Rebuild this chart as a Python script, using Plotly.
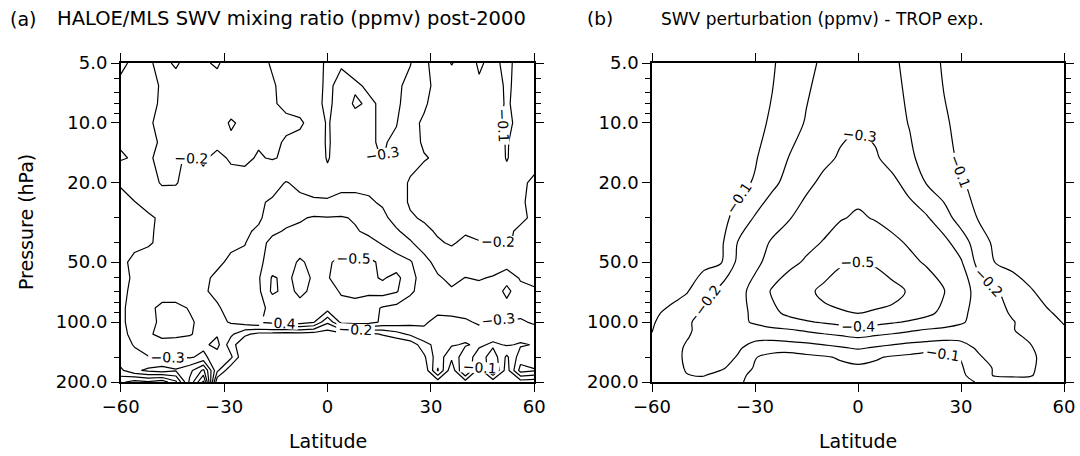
import math
import plotly.graph_objects as go

FONT = "DejaVu Sans"

# ---------------- Panel (a): HALOE/MLS SWV change post-2000 (ppmv) ----------------
lat_a = [-60, -56, -52, -48, -44, -40, -36, -32, -28, -24, -20, -16, -12, -8, -4, 0,
         4, 8, 12, 16, 20, 24, 28, 32, 36, 40, 44, 48, 52, 56, 60]
p_a = [5, 6.5, 8, 10, 12.5, 15, 20, 25, 30, 35, 40, 50, 60, 70, 85, 100, 115, 130, 150, 175, 200]
swv_a = [
    [-0.19, -0.21, -0.21, -0.18, -0.21, -0.17, -0.19, -0.21, -0.16, -0.18, -0.17, -0.21, -0.24, -0.26, -0.25, -0.32, -0.31, -0.33, -0.33, -0.32, -0.32, -0.305, -0.22, -0.16, -0.095, -0.14, -0.09, -0.12, -0.08, -0.13, -0.15],
    [-0.21, -0.22, -0.23, -0.19, -0.17, -0.16, -0.18, -0.17, -0.16, -0.18, -0.17, -0.19, -0.23, -0.25, -0.26, -0.32, -0.27, -0.29, -0.31, -0.33, -0.32, -0.27, -0.22, -0.18, -0.15, -0.12, -0.11, -0.13, -0.09, -0.12, -0.14],
    [-0.22, -0.23, -0.22, -0.19, -0.16, -0.17, -0.15, -0.17, -0.16, -0.17, -0.18, -0.19, -0.22, -0.24, -0.27, -0.32, -0.26, -0.31, -0.29, -0.31, -0.32, -0.25, -0.21, -0.17, -0.15, -0.16, -0.13, -0.14, -0.09, -0.13, -0.15],
    [-0.22, -0.22, -0.21, -0.18, -0.17, -0.16, -0.18, -0.16, -0.21, -0.18, -0.19, -0.18, -0.18, -0.185, -0.24, -0.31, -0.25, -0.27, -0.28, -0.32, -0.305, -0.22, -0.19, -0.17, -0.15, -0.14, -0.15, -0.13, -0.085, -0.12, -0.16],
    [-0.21, -0.23, -0.22, -0.19, -0.185, -0.17, -0.19, -0.18, -0.185, -0.19, -0.195, -0.18, -0.21, -0.23, -0.25, -0.31, -0.26, -0.27, -0.29, -0.31, -0.28, -0.23, -0.19, -0.17, -0.15, -0.16, -0.14, -0.17, -0.09, -0.16, -0.17],
    [-0.19, -0.21, -0.21, -0.18, -0.19, -0.21, -0.19, -0.22, -0.19, -0.19, -0.205, -0.195, -0.21, -0.24, -0.26, -0.305, -0.27, -0.28, -0.29, -0.302, -0.27, -0.23, -0.205, -0.19, -0.17, -0.16, -0.17, -0.15, -0.095, -0.14, -0.18],
    [-0.29, -0.26, -0.24, -0.19, -0.195, -0.23, -0.22, -0.24, -0.23, -0.22, -0.25, -0.27, -0.305, -0.28, -0.27, -0.28, -0.29, -0.28, -0.28, -0.27, -0.24, -0.19, -0.17, -0.16, -0.15, -0.16, -0.15, -0.16, -0.13, -0.19, -0.21],
    [-0.33, -0.302, -0.28, -0.26, -0.24, -0.26, -0.25, -0.27, -0.26, -0.27, -0.29, -0.31, -0.32, -0.32, -0.31, -0.305, -0.31, -0.32, -0.31, -0.29, -0.24, -0.19, -0.17, -0.16, -0.15, -0.16, -0.15, -0.14, -0.16, -0.19, -0.22],
    [-0.34, -0.32, -0.31, -0.29, -0.27, -0.28, -0.27, -0.28, -0.27, -0.28, -0.29, -0.33, -0.37, -0.39, -0.41, -0.405, -0.41, -0.39, -0.37, -0.32, -0.27, -0.21, -0.19, -0.18, -0.17, -0.16, -0.17, -0.15, -0.16, -0.19, -0.21],
    [-0.33, -0.32, -0.31, -0.285, -0.26, -0.27, -0.26, -0.27, -0.28, -0.29, -0.31, -0.38, -0.41, -0.42, -0.43, -0.42, -0.43, -0.41, -0.38, -0.34, -0.31, -0.27, -0.22, -0.19, -0.18, -0.19, -0.18, -0.17, -0.19, -0.21, -0.22],
    [-0.32, -0.31, -0.305, -0.29, -0.27, -0.28, -0.27, -0.28, -0.29, -0.295, -0.36, -0.43, -0.44, -0.46, -0.47, -0.45, -0.46, -0.45, -0.43, -0.39, -0.35, -0.31, -0.26, -0.21, -0.19, -0.22, -0.205, -0.21, -0.19, -0.22, -0.23],
    [-0.31, -0.29, -0.28, -0.27, -0.26, -0.27, -0.28, -0.29, -0.31, -0.33, -0.38, -0.44, -0.47, -0.51, -0.48, -0.49, -0.52, -0.51, -0.52, -0.48, -0.44, -0.41, -0.33, -0.27, -0.25, -0.24, -0.26, -0.23, -0.25, -0.27, -0.26],
    [-0.32, -0.29, -0.28, -0.27, -0.28, -0.27, -0.29, -0.31, -0.35, -0.37, -0.39, -0.51, -0.48, -0.53, -0.49, -0.495, -0.53, -0.55, -0.52, -0.49, -0.53, -0.43, -0.36, -0.31, -0.28, -0.302, -0.29, -0.31, -0.36, -0.29, -0.28],
    [-0.31, -0.29, -0.27, -0.28, -0.26, -0.28, -0.29, -0.32, -0.34, -0.36, -0.38, -0.52, -0.47, -0.52, -0.48, -0.46, -0.51, -0.53, -0.52, -0.54, -0.51, -0.42, -0.35, -0.33, -0.31, -0.32, -0.34, -0.33, -0.43, -0.33, -0.31],
    [-0.31, -0.28, -0.29, -0.31, -0.32, -0.295, -0.28, -0.29, -0.33, -0.36, -0.38, -0.42, -0.45, -0.47, -0.46, -0.45, -0.47, -0.46, -0.44, -0.39, -0.37, -0.34, -0.33, -0.32, -0.34, -0.33, -0.35, -0.34, -0.36, -0.33, -0.32],
    [-0.305, -0.29, -0.27, -0.32, -0.34, -0.31, -0.28, -0.27, -0.31, -0.35, -0.39, -0.43, -0.44, -0.45, -0.41, -0.22, -0.43, -0.45, -0.44, -0.38, -0.36, -0.33, -0.31, -0.28, -0.27, -0.29, -0.31, -0.28, -0.295, -0.29, -0.31],
    [-0.31, -0.29, -0.29, -0.32, -0.31, -0.305, -0.28, -0.29, -0.22, -0.12, -0.07, -0.06, -0.05, -0.06, -0.05, -0.04, -0.06, -0.05, -0.07, -0.11, -0.16, -0.22, -0.28, -0.29, -0.26, -0.24, -0.27, -0.25, -0.26, -0.24, -0.26],
    [-0.33, -0.295, -0.28, -0.27, -0.28, -0.27, -0.28, -0.33, -0.14, -0.02, 0.0, 0.0, 0.0, 0.0, 0.0, 0.0, 0.0, 0.0, 0.0, 0.0, 0.0, -0.03, -0.16, -0.24, -0.21, -0.19, -0.22, -0.18, -0.21, -0.19, -0.205],
    [-0.36, -0.32, -0.302, -0.29, -0.305, -0.29, -0.32, -0.25, -0.22, 0.0, 0.0, 0.0, 0.0, 0.0, 0.0, 0.0, 0.0, 0.0, 0.0, 0.0, 0.0, -0.01, -0.08, -0.26, -0.12, -0.27, -0.14, -0.26, -0.08, -0.25, -0.24],
    [-0.28, -0.38, -0.42, -0.45, -0.41, -0.47, -0.62, -0.22, -0.02, 0.0, 0.0, 0.0, 0.0, 0.0, 0.0, 0.0, 0.0, 0.0, 0.0, 0.0, 0.0, 0.0, -0.02, -0.31, -0.03, -0.33, -0.04, -0.32, -0.05, -0.34, -0.31],
    [-0.12, -0.06, -0.09, -0.04, -0.18, -0.52, -0.82, -0.02, 0.0, 0.0, 0.0, 0.0, 0.0, 0.0, 0.0, 0.0, 0.0, 0.0, 0.0, 0.0, 0.0, 0.0, 0.0, -0.05, 0.0, -0.06, 0.0, -0.04, 0.0, -0.05, -0.04],
]

# ---------------- Panel (b): model SWV perturbation, TROP experiment (ppmv) ----------------
lat_b = [-60, -55, -50, -45, -40, -35, -30, -25, -20, -15, -10, -5, 0,
         5, 10, 15, 20, 25, 30, 35, 40, 45, 50, 55, 60]
p_b = [5, 10, 15, 20, 30, 40, 50, 70, 90, 100, 110, 120, 135, 150, 170, 185, 200]
swv_b = [
    [-0.01, -0.01, -0.02, -0.03, -0.04, -0.06, -0.08, -0.095, -0.12, -0.17, -0.22, -0.25, -0.26, -0.25, -0.22, -0.17, -0.12, -0.095, -0.08, -0.06, -0.04, -0.03, -0.02, -0.01, -0.01],
    [-0.01, -0.02, -0.03, -0.04, -0.05, -0.07, -0.09, -0.105, -0.15, -0.21, -0.25, -0.28, -0.29, -0.28, -0.24, -0.195, -0.14, -0.105, -0.09, -0.07, -0.05, -0.04, -0.03, -0.02, -0.01],
    [-0.01, -0.02, -0.03, -0.05, -0.06, -0.08, -0.095, -0.13, -0.205, -0.24, -0.28, -0.31, -0.33, -0.31, -0.27, -0.22, -0.16, -0.12, -0.09, -0.07, -0.06, -0.05, -0.03, -0.02, -0.01],
    [-0.02, -0.03, -0.04, -0.05, -0.07, -0.085, -0.105, -0.18, -0.23, -0.28, -0.32, -0.35, -0.37, -0.35, -0.32, -0.27, -0.195, -0.15, -0.105, -0.085, -0.07, -0.05, -0.04, -0.03, -0.02],
    [-0.02, -0.03, -0.04, -0.06, -0.08, -0.12, -0.21, -0.26, -0.295, -0.34, -0.37, -0.395, -0.41, -0.395, -0.37, -0.34, -0.31, -0.24, -0.16, -0.095, -0.07, -0.05, -0.04, -0.03, -0.02],
    [-0.02, -0.03, -0.04, -0.05, -0.08, -0.205, -0.26, -0.31, -0.35, -0.38, -0.405, -0.44, -0.46, -0.44, -0.42, -0.39, -0.36, -0.33, -0.25, -0.15, -0.08, -0.05, -0.04, -0.03, -0.02],
    [-0.02, -0.03, -0.05, -0.07, -0.09, -0.22, -0.28, -0.33, -0.38, -0.41, -0.45, -0.49, -0.505, -0.49, -0.45, -0.42, -0.39, -0.35, -0.31, -0.17, -0.097, -0.07, -0.05, -0.03, -0.02],
    [-0.04, -0.06, -0.09, -0.17, -0.23, -0.27, -0.33, -0.41, -0.45, -0.48, -0.52, -0.55, -0.56, -0.55, -0.53, -0.49, -0.45, -0.405, -0.34, -0.27, -0.21, -0.16, -0.11, -0.07, -0.05],
    [-0.08, -0.12, -0.17, -0.21, -0.24, -0.27, -0.32, -0.38, -0.42, -0.45, -0.48, -0.49, -0.503, -0.49, -0.48, -0.45, -0.42, -0.38, -0.32, -0.27, -0.23, -0.19, -0.15, -0.11, -0.08],
    [-0.09, -0.14, -0.19, -0.22, -0.25, -0.28, -0.31, -0.34, -0.37, -0.39, -0.41, -0.43, -0.445, -0.43, -0.41, -0.39, -0.37, -0.34, -0.31, -0.27, -0.23, -0.205, -0.17, -0.13, -0.095],
    [-0.098, -0.15, -0.19, -0.22, -0.24, -0.26, -0.27, -0.28, -0.29, -0.31, -0.33, -0.35, -0.37, -0.35, -0.33, -0.31, -0.29, -0.28, -0.27, -0.25, -0.22, -0.205, -0.17, -0.14, -0.11],
    [-0.105, -0.15, -0.195, -0.23, -0.235, -0.225, -0.215, -0.22, -0.24, -0.25, -0.265, -0.28, -0.298, -0.28, -0.265, -0.25, -0.24, -0.22, -0.215, -0.225, -0.235, -0.22, -0.19, -0.14, -0.11],
    [-0.12, -0.16, -0.21, -0.23, -0.23, -0.21, -0.17, -0.14, -0.13, -0.15, -0.17, -0.19, -0.21, -0.19, -0.17, -0.15, -0.13, -0.14, -0.17, -0.21, -0.23, -0.23, -0.21, -0.16, -0.12],
    [-0.13, -0.17, -0.21, -0.235, -0.23, -0.195, -0.105, -0.07, -0.07, -0.08, -0.09, -0.11, -0.13, -0.11, -0.09, -0.08, -0.07, -0.07, -0.105, -0.19, -0.23, -0.235, -0.22, -0.17, -0.13],
    [-0.14, -0.17, -0.205, -0.23, -0.215, -0.16, -0.09, -0.06, -0.06, -0.06, -0.07, -0.08, -0.085, -0.08, -0.07, -0.06, -0.06, -0.06, -0.09, -0.16, -0.21, -0.23, -0.21, -0.18, -0.15],
    [-0.14, -0.17, -0.198, -0.205, -0.17, -0.12, -0.08, -0.05, -0.05, -0.05, -0.05, -0.06, -0.06, -0.06, -0.05, -0.05, -0.05, -0.05, -0.08, -0.15, -0.21, -0.21, -0.205, -0.18, -0.15],
    [-0.14, -0.16, -0.18, -0.17, -0.14, -0.11, -0.08, -0.05, -0.05, -0.05, -0.05, -0.05, -0.05, -0.05, -0.05, -0.05, -0.05, -0.05, -0.08, -0.105, -0.14, -0.17, -0.18, -0.16, -0.14],
]

# ---------------- Axis ticks / labels ----------------
x_ticks = [-60, -30, 0, 30, 60]
y_ticks = [5, 10, 20, 50, 100, 200]
y_ticktext = ["5.0", "10.0", "20.0", "50.0", "100.0", "200.0"]
y_minor = [6, 7, 8, 9, 30, 40, 60, 70, 80, 90, 150]

title_a = "HALOE/MLS SWV mixing ratio (ppmv) post-2000"
title_b = "SWV perturbation (ppmv) - TROP exp."

W, H = 1080, 456
black = [[0, "black"], [1, "black"]]

fig = go.Figure()
fig.add_trace(go.Contour(
    x=lat_a, y=p_a, z=swv_a, xaxis="x", yaxis="y",
    contours=dict(start=-0.9, end=-0.1, size=0.1, coloring="lines", showlabels=True,
                  labelfont=dict(family=FONT, size=14, color="black"), labelformat=".1f"),
    colorscale=black, showscale=False, line=dict(width=1.2, smoothing=0),
    hoverinfo="skip"))
fig.add_trace(go.Contour(
    x=lat_b, y=p_b, z=swv_b, xaxis="x2", yaxis="y2",
    contours=dict(start=-0.5, end=-0.1, size=0.1, coloring="lines", showlabels=True,
                  labelfont=dict(family=FONT, size=14, color="black"), labelformat=".1f"),
    colorscale=black, showscale=False, line=dict(width=1.2, smoothing=1),
    hoverinfo="skip"))

y0 = (H - 382) / H
y1 = (H - 63) / H


def xax(domain, anchor):
    return dict(domain=domain, anchor=anchor, range=[-60, 60], tickmode="array", tickvals=x_ticks,
                ticks="outside", ticklen=8, tickwidth=1.2, tickcolor="black", automargin=False,
                showline=True, linecolor="black", linewidth=1.5, mirror="ticks",
                showgrid=False, zeroline=False, tickfont=dict(family=FONT, size=18, color="black"))


def yax(anchor):
    return dict(domain=[y0, y1], anchor=anchor, type="log", automargin=False,
                range=[math.log10(200), math.log10(5)],
                tickmode="array", tickvals=y_ticks, ticktext=y_ticktext,
                ticks="outside", ticklen=8, tickwidth=1.2, tickcolor="black",
                minor=dict(tickmode="array", tickvals=y_minor, ticks="outside", ticklen=5,
                           tickwidth=1.2, tickcolor="black", showgrid=False),
                showline=True, linecolor="black", linewidth=1.5, mirror="ticks",
                showgrid=False, zeroline=False, tickfont=dict(family=FONT, size=18, color="black"))


fig.update_layout(
    width=W, height=H, margin=dict(l=0, r=0, t=0, b=0, autoexpand=False),
    paper_bgcolor="white", plot_bgcolor="white", showlegend=False,
    xaxis=xax([120.7 / W, 534.3 / W], "y"),
    yaxis=yax("x"),
    xaxis2=xax([652 / W, 1064 / W], "y2"),
    yaxis2=yax("x2"),
)

ann = []


def text(s, x, y, size, xanchor="left", angle=0):
    ann.append(dict(text=s, x=x / W, y=1 - y / H, xref="paper", yref="paper", showarrow=False,
                    xanchor=xanchor, yanchor="middle", textangle=angle,
                    font=dict(family=FONT, size=size, color="black")))


text("(a)", 8, 19, 19)
text(title_a, 55, 19, 19.5)
text("(b)", 585, 19, 18.5)
text(title_b, 659, 19, 17)
text("Latitude", 327.5, 441, 19, "center")
text("Latitude", 858, 441, 19, "center")
text("Pressure (hPa)", 26, 222, 19, "center", -90)
fig.update_layout(annotations=ann)

fig.write_html("out.html", config={"displayModeBar": False},
               post_script="document.body.style.margin='0px';document.body.style.padding='0px';")
